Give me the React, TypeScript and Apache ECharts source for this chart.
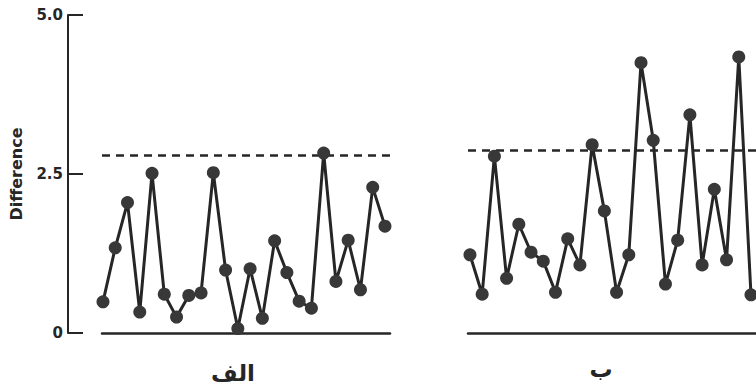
import React, { useEffect, useRef } from "react";
import * as echarts from "echarts";

// Panel A (الف) values
const panelAValues = [
  0.49, 1.34, 2.05, 0.33, 2.51, 0.61, 0.25, 0.59, 0.63, 2.52, 0.99, 0.07,
  1.01, 0.23, 1.45, 0.95, 0.5, 0.39, 2.83, 0.81, 1.46, 0.68, 2.29, 1.68,
];
// Panel B (ب) values
const panelBValues = [
  1.23, 0.61, 2.78, 0.86, 1.71, 1.27, 1.13, 0.64, 1.48, 1.07, 2.96, 1.92,
  0.64, 1.23, 4.25, 3.03, 0.77, 1.46, 3.43, 1.07, 2.26, 1.15, 4.34, 0.6,
];
const panelALimit = 2.8;
const panelBLimit = 2.87;
const panelLabels = ["الف", "ب"];
const yTicks = [0, 2.5, 5.0];
const yAxisName = "Difference";

const INK = "#262626";
const MARK = "#383838";

export default function App() {
  const ref = useRef<HTMLDivElement>(null);
  useEffect(() => {
    if (!ref.current) return;
    const chart = echarts.init(ref.current, null, { renderer: "svg" });
    const toPairs = (arr: number[]) => arr.map((v, i) => [i, v]);
    const lineSeries = (data: number[], limit: number, idx: number) => ({
      type: "line",
      xAxisIndex: idx,
      yAxisIndex: idx,
      data: toPairs(data),
      symbol: "circle",
      symbolSize: 13,
      lineStyle: { color: INK, width: 3 },
      itemStyle: { color: MARK },
      z: 3,
      markLine: {
        silent: true,
        symbol: "none",
        label: { show: false },
        lineStyle: { color: INK, width: 2.5, type: [8, 6] },
        data: [{ yAxis: limit }],
        z: 2,
      },
    });
    const hiddenX = (idx: number, min: number, max: number) => ({
      type: "value",
      gridIndex: idx,
      min,
      max,
      axisLine: { show: true, onZero: false, lineStyle: { color: INK, width: 2.5 } },
      axisTick: { show: false },
      axisLabel: { show: false },
      splitLine: { show: false },
    });
    chart.setOption({
      animation: false,
      backgroundColor: "#ffffff",
      grid: [
        { left: 102, top: 15, width: 288, height: 318 },
        { left: 468, top: 15, width: 290, height: 318 },
      ],
      xAxis: [hiddenX(0, -0.08, 23.41), hiddenX(1, -0.16, 23.41)],
      yAxis: [
        {
          type: "value",
          gridIndex: 0,
          min: yTicks[0],
          max: yTicks[yTicks.length - 1],
          interval: yTicks[1] - yTicks[0],
          offset: 34,
          axisLine: { show: true, onZero: false, lineStyle: { color: INK, width: 2 } },
          axisTick: { show: true, inside: true, length: 15, lineStyle: { color: INK, width: 2 } },
          axisLabel: {
            color: INK,
            fontFamily: "DejaVu Sans",
            fontWeight: "bold",
            fontSize: 15,
            margin: 5,
            formatter: (v: number) => (v === 0 ? "0" : v.toFixed(1)),
          },
          splitLine: { show: false },
          name: yAxisName,
          nameLocation: "middle",
          nameRotate: 90,
          nameGap: 44,
          nameTextStyle: {
            color: INK,
            fontFamily: "DejaVu Sans",
            fontWeight: "bold",
            fontSize: 16,
          },
        },
        {
          type: "value",
          gridIndex: 1,
          min: 0,
          max: 5,
          show: false,
          splitLine: { show: false },
        },
      ],
      series: [
        lineSeries(panelAValues, panelALimit, 0),
        lineSeries(panelBValues, panelBLimit, 1),
      ],
      graphic: [
        {
          type: "text",
          x: 233,
          y: 373,
          style: {
            text: panelLabels[0],
            fill: INK,
            font: "bold 23px 'DejaVu Sans'",
            textAlign: "center",
            textVerticalAlign: "middle",
          },
        },
        {
          type: "text",
          x: 601,
          y: 369,
          style: {
            text: panelLabels[1],
            fill: INK,
            font: "bold 23px 'DejaVu Sans'",
            textAlign: "center",
            textVerticalAlign: "middle",
          },
        },
      ],
    });
    return () => chart.dispose();
  }, []);
  return (
    <div
      ref={ref}
      style={{ position: "fixed", left: 0, top: 0, width: 756, height: 390 }}
    />
  );
}
